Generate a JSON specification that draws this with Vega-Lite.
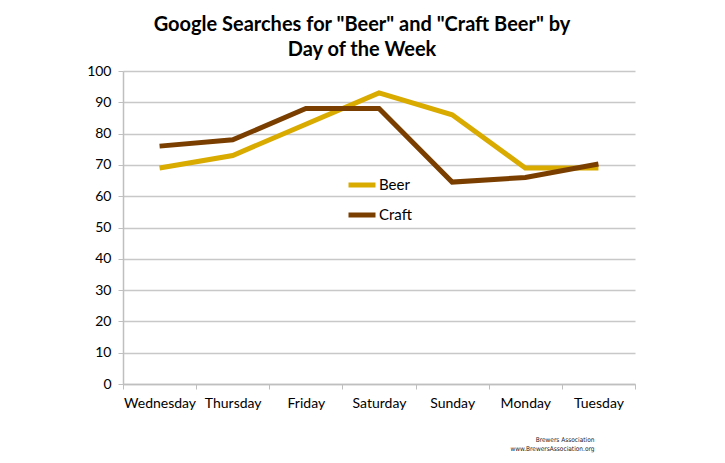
{
  "$schema": "https://vega.github.io/schema/vega-lite/v6.json",
  "width": 512,
  "height": 313,
  "autosize": {"type": "none"},
  "padding": {"left": 123, "top": 71, "right": 90, "bottom": 79},
  "background": "white",
  "title": {
    "text": ["Google Searches for \"Beer\" and \"Craft Beer\" by", "Day of the Week"],
    "font": "Lato",
    "fontSize": 20,
    "fontWeight": "bold",
    "color": "#000000",
    "anchor": "middle",
    "dx": -17,
    "lineHeight": 25,
    "offset": 4
  },
  "data": {
    "values": [
      {"day": "Wednesday", "series": "Beer", "value": 69},
      {"day": "Thursday", "series": "Beer", "value": 73},
      {"day": "Friday", "series": "Beer", "value": 83},
      {"day": "Saturday", "series": "Beer", "value": 93},
      {"day": "Sunday", "series": "Beer", "value": 86},
      {"day": "Monday", "series": "Beer", "value": 69},
      {"day": "Tuesday", "series": "Beer", "value": 69},
      {"day": "Wednesday", "series": "Craft", "value": 76},
      {"day": "Thursday", "series": "Craft", "value": 78},
      {"day": "Friday", "series": "Craft", "value": 88},
      {"day": "Saturday", "series": "Craft", "value": 88},
      {"day": "Sunday", "series": "Craft", "value": 64.5},
      {"day": "Monday", "series": "Craft", "value": 66},
      {"day": "Tuesday", "series": "Craft", "value": 70.3}
    ]
  },
  "mark": {"type": "line", "strokeWidth": 5, "strokeCap": "butt", "strokeJoin": "miter"},
  "encoding": {
    "x": {
      "field": "day",
      "type": "ordinal",
      "sort": ["Wednesday", "Thursday", "Friday", "Saturday", "Sunday", "Monday", "Tuesday"],
      "bandPosition": 0.5,
      "scale": {"type": "band", "paddingInner": 0, "paddingOuter": 0},
      "axis": {
        "title": ["Brewers Association", "www.BrewersAssociation.org"],
        "titleFont": "DejaVu Sans Condensed",
        "titleFontSize": 6.5,
        "titleFontWeight": "normal",
        "titleColor": "#222222",
        "titleAlign": "right",
        "titleAnchor": "end",
        "titleX": 471,
        "titleY": 52,
        "titleLineHeight": 9,
        "labelAngle": 0,
        "labelFont": "Lato",
        "labelFontSize": 14,
        "labelColor": "#000000",
        "labelPadding": 7,
        "tickBand": "extent",
        "tickSize": 5,
        "tickColor": "#BFBFBF",
        "domainColor": "#BFBFBF",
        "domainWidth": 1.5,
        "grid": false
      }
    },
    "y": {
      "field": "value",
      "type": "quantitative",
      "scale": {"domain": [0, 100], "nice": false},
      "axis": {
        "title": null,
        "values": [0, 10, 20, 30, 40, 50, 60, 70, 80, 90, 100],
        "labelFont": "Lato",
        "labelFontSize": 14,
        "labelColor": "#000000",
        "labelPadding": 7,
        "tickSize": 5,
        "tickColor": "#BFBFBF",
        "domainColor": "#BFBFBF",
        "domainWidth": 1.5,
        "gridColor": "#C8C8C8",
        "gridWidth": 1.5
      }
    },
    "color": {
      "field": "series",
      "type": "nominal",
      "scale": {"domain": ["Beer", "Craft"], "range": ["#D9AA00", "#7A3F00"]},
      "legend": {
        "title": null,
        "orient": "none",
        "legendX": 223,
        "legendY": 98,
        "symbolType": "stroke",
        "symbolSize": 729,
        "symbolStrokeWidth": 5,
        "labelFont": "Lato",
        "labelFontSize": 15,
        "labelColor": "#000000",
        "labelOffset": 1,
        "rowPadding": 4
      }
    }
  },
  "config": {"view": {"stroke": null}}
}
